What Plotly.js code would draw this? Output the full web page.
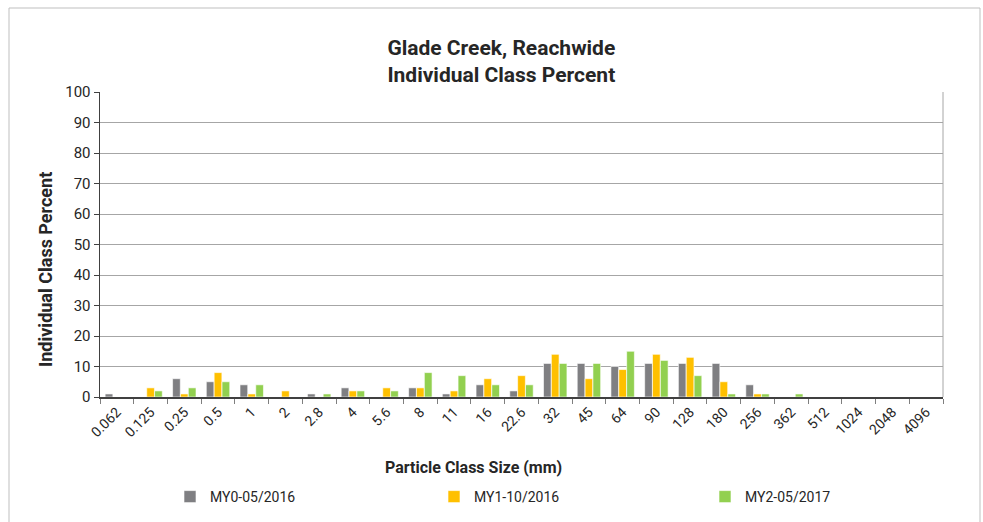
<!DOCTYPE html>
<html><head><meta charset="utf-8">
<script src="https://cdn.plot.ly/plotly-3.0.1.min.js"></script>
<style>html,body{margin:0;padding:0;background:#fff}#chart{width:983px;height:522px}</style>
</head><body><div id="chart"></div>
<script>
const categories = ["0.062","0.125","0.25","0.5","1","2","2.8","4","5.6","8","11","16","22.6","32","45","64","90","128","180","256","362","512","1024","2048","4096"];
const my0 = [1,0,6,5,4,0,1,3,0,3,1,4,2,11,11,10,11,11,11,4,0,0,0,0,0];
const my1 = [0,3,1,8,1,2,0,2,3,3,2,6,7,14,6,9,14,13,5,1,0,0,0,0,0];
const my2 = [0,2,3,5,4,0,1,2,2,8,7,4,4,11,11,15,12,7,1,1,1,0,0,0,0];
const seriesNames = ["MY0-05/2016","MY1-10/2016","MY2-05/2017"];
const colors = ["#7f7f82","#ffc000","#92d050"];
const FONT = "Roboto, Liberation Sans, sans-serif";
const legendNames = ["legend","legend2","legend3"];
const legendX = [170, 434, 705];

const data = [my0,my1,my2].map((v,i)=>({
  type:"bar", x:categories, y:v, name:seriesNames[i], legend:legendNames[i],
  marker:{color:colors[i], line:{color:"rgba(255,255,255,0.6)", width:1}}
}));

const legendCfg = x => ({orientation:"h", xref:"container", yref:"container", x:x/983, xanchor:"left",
  y:(522-497)/522, yanchor:"middle", itemwidth:30, font:{size:14}, bgcolor:"rgba(0,0,0,0)"});

const layout = {
  width:983, height:522,
  margin:{l:100, r:40, t:92, b:125},
  paper_bgcolor:"#fff", plot_bgcolor:"#fff",
  font:{family:FONT, color:"#262626", size:14},
  barmode:"group", bargap:0.3, bargroupgap:0.02,
  title:{text:"<b>Glade Creek, Reachwide<br>Individual Class Percent</b>", font:{size:21, family:FONT, color:"#262626"},
         x:0.51, xanchor:"center", y:0.895, yanchor:"middle"},
  xaxis:{type:"category", automargin:false, tickangle:-45, tickfont:{size:14}, ticks:"outside", ticklen:5, tickcolor:"#7f7f7f",
         tickson:"boundaries", showline:true, linecolor:"#404040", linewidth:1.5, showgrid:false, mirror:false},
  yaxis:{range:[0,100], automargin:false, dtick:10, tickfont:{size:15}, ticks:"outside", ticklen:5, tickcolor:"#404040",
         showline:true, linecolor:"#404040", linewidth:1.5, gridcolor:"#a6a6a6", gridwidth:1, zeroline:false},
  showlegend:true,
  legend:legendCfg(legendX[0]), legend2:legendCfg(legendX[1]), legend3:legendCfg(legendX[2]),
  annotations:[
    {text:"<b>Individual Class Percent</b>", textangle:-90, xref:"paper", yref:"paper",
     x:(45-100)/843, y:(397-270)/305, xanchor:"center", yanchor:"middle", showarrow:false, font:{size:18}},
    {text:"<b>Particle Class Size (mm)</b>", xref:"paper", yref:"paper",
     x:(473-100)/843, y:(397-467)/305, xanchor:"center", yanchor:"middle", showarrow:false, font:{size:16}}
  ],
  shapes:[
    {type:"rect", xref:"paper", yref:"paper", x0:(9-100)/843, x1:(980-100)/843, y0:(397-540)/305, y1:(397-8)/305,
     line:{color:"#bfbfbf", width:1}, fillcolor:"rgba(0,0,0,0)", layer:"below"},
    {type:"line", xref:"paper", yref:"paper", x0:1, x1:1, y0:0, y1:1, line:{color:"#a6a6a6", width:1}}
  ]
};
Plotly.newPlot("chart", data, layout, {displayModeBar:false, staticPlot:true});
</script></body></html>
